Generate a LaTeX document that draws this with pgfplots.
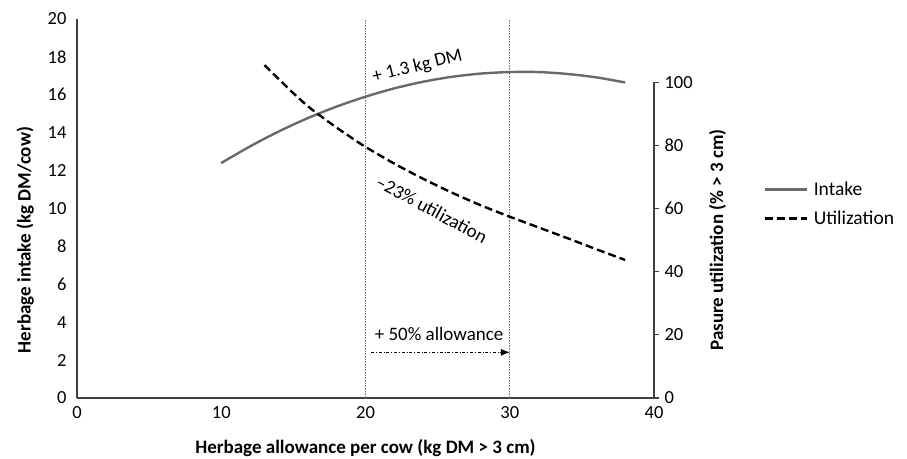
\documentclass[border=0pt]{standalone}
\usepackage{fontspec}
\setmainfont{Carlito}
\usepackage{pgfplots}
\pgfplotsset{compat=1.18}
\usetikzlibrary{arrows.meta}

\definecolor{intakegray}{RGB}{105,105,105}
\definecolor{axgray}{RGB}{64,64,64}

\begin{document}
\begin{tikzpicture}
\useasboundingbox (-77pt,-60pt) rectangle (830pt,398pt);
% left axis: herbage intake
\begin{axis}[
    scale only axis,
    width=577pt, height=379pt,
    xmin=0, xmax=40, ymin=0, ymax=20,
    axis x line*=bottom, axis y line*=left,
    axis line style={axgray, line width=1.2pt},
    xtick={0,10,...,40}, ytick={0,2,...,20},
    major tick length=0pt,
    tick label style={font=\fontsize{18.5}{21}\selectfont},
    /pgf/number format/assume math mode=true,
    xticklabel style={yshift=-5pt},
    yticklabel style={xshift=-7pt},
    xlabel={\textbf{Herbage allowance per cow (kg DM > 3 cm)}},
    ylabel={\textbf{Herbage intake (kg DM/cow)}},
    label style={font=\fontsize{19}{22}\selectfont},
    xlabel style={at={(rel axis cs:0.5,-0.132)}, anchor=center},
    ylabel style={at={(rel axis cs:-0.09,0.417)}, anchor=center},
    clip=false,
]
\addplot[gray, line width=0.6pt, densely dotted] coordinates {(20,0) (20,20)};
\addplot[gray, line width=0.6pt, densely dotted] coordinates {(30,0) (30,20)};

\addplot[intakegray, line width=2.4pt, smooth] coordinates {
(10,12.40) (12,13.28) (14,14.07) (16,14.77) (18,15.38) (20,15.90)
(22,16.34) (24,16.69) (26,16.95) (28,17.12) (30,17.20) (32,17.20)
(34,17.10) (36,16.92) (38,16.65)
};

\node[rotate=14, font=\fontsize{19}{22}\selectfont] at (axis cs:23.6,17.5) {+ 1.3 kg DM};
\node[rotate=-28, font=\fontsize{19}{22}\selectfont] at (axis cs:24.6,9.95) {–23\% utilization};
\node[font=\fontsize{19}{22}\selectfont] at (axis cs:25.1,3.4) {+ 50\% allowance};
\draw[black, line width=0.6pt, dash dot, -{Latex[length=9pt,width=7pt]}] (axis cs:20.4,2.41) -- (axis cs:30,2.41);
\end{axis}

% right axis: pasture utilization
\begin{axis}[
    scale only axis,
    width=577pt, height=379pt,
    xmin=0, xmax=40, ymin=0, ymax=120,
    axis x line=none, axis y line*=right,
    y axis line style={draw=none},
    ytick={0,20,...,100},
    tick align=outside,
    major tick length=5pt,
    tick style={axgray, line width=1.2pt},
    tick label style={font=\fontsize{18.5}{21}\selectfont},
    /pgf/number format/assume math mode=true,
    yticklabel style={xshift=2pt},
    ylabel={\textbf{Pasure utilization (\% > 3 cm)}},
    ylabel style={at={(rel axis cs:1.11,0.417)}, anchor=center, rotate=0,
        font=\fontsize{19}{22}\selectfont},
    legend style={draw=none, fill=none, at={(rel axis cs:1.184,0.512)}, anchor=west,
        font=\fontsize{19.5}{22}\selectfont, row sep=10pt},
    legend cell align=left,
    legend image code/.code={\draw[#1] (0pt,0pt) -- (42pt,0pt); \path (46pt,0pt);},
    clip=false,
]
\draw[axgray, line width=1.2pt] (axis cs:40,0) -- (axis cs:40,100);
\addlegendimage{intakegray, line width=2.4pt}
\addlegendentry{Intake}

\addplot[black, line width=2.4pt, dash pattern=on 8pt off 4pt, smooth] coordinates {
(13,105.4) (14,100.9) (15,96.5) (16,92.4) (17,88.9) (18,85.6) (19,82.5)
(20,79.5) (22,74.2) (24,69.4) (26,65.0) (28,61.0) (30,57.4) (32,54.0)
(34,50.6) (36,47.1) (38,43.7)
};
\addlegendentry{Utilization}
\end{axis}
\end{tikzpicture}
\end{document}
